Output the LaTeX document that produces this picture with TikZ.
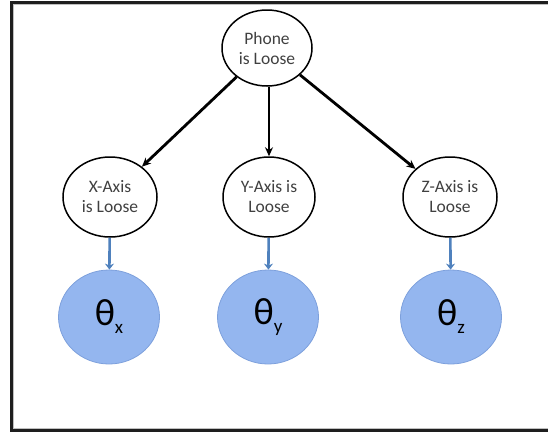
\documentclass[tikz,border=0pt]{standalone}
\usepackage{fontspec}
\setmainfont{Carlito}
\usetikzlibrary{shapes.geometric,arrows.meta}
\definecolor{thetafill}{RGB}{148,182,239}
\definecolor{thetaedge}{RGB}{125,160,220}
\definecolor{bluearrow}{RGB}{79,129,189}
\definecolor{frameclr}{RGB}{30,30,30}
\tikzset{
  cause/.style={ellipse,draw=black,line width=1.5pt,fill=white,minimum width=#1,minimum height=80pt,inner sep=0pt,align=center,font=\fontsize{17.5}{20}\selectfont,text=black!75},
  cause/.default=94pt,
  theta/.style={ellipse,draw=thetaedge,line width=0.8pt,fill=thetafill,minimum width=101pt,minimum height=94pt,inner sep=0pt,font=\fontsize{38}{40}\selectfont},
  blackarrow/.style={-{Stealth[length=9pt,width=8pt]},line width=2.8pt,black},
  bluearr/.style={-{Stealth[length=6pt,width=9pt]},line width=2.6pt,bluearrow},
}
\newcommand{\thetasub}[1]{θ\raisebox{-8pt}{\fontsize{19}{20}\selectfont #1}}
\begin{document}
\begin{tikzpicture}[x=1pt,y=-1pt]
\useasboundingbox (0,0) rectangle (548,432);
\begin{scope}
\clip (0,0) rectangle (548,432);
\draw[frameclr,line width=3pt] (11,2.5) rectangle (570,430.5);
\draw[black!25,line width=0.6pt] (13,4.5) rectangle (570,428);
\end{scope}
\node[cause=90pt,minimum height=76pt] (phone) at (267,48) {Phone\\is Loose};
\node[cause] (xa) at (110,197) {X-Axis\\is Loose};
\node[cause=92pt] (ya) at (269,197) {Y-Axis is\\Loose};
\node[cause] (za) at (450,197) {Z-Axis is\\Loose};
\node[theta] (tx) at (109,317) {\thetasub{x}};
\node[theta] (ty) at (268,317) {\thetasub{y}};
\node[theta] (tz) at (451,317) {\thetasub{z}};
\draw[blackarrow] (phone) -- (xa);
\draw[blackarrow] (phone.south -| ya) -- (ya);
\draw[blackarrow] (phone) -- (za);
\draw[bluearr] (xa) -- (tx);
\draw[bluearr] (ya) -- (ty);
\draw[bluearr] (za) -- (tz);
\end{tikzpicture}
\end{document}
